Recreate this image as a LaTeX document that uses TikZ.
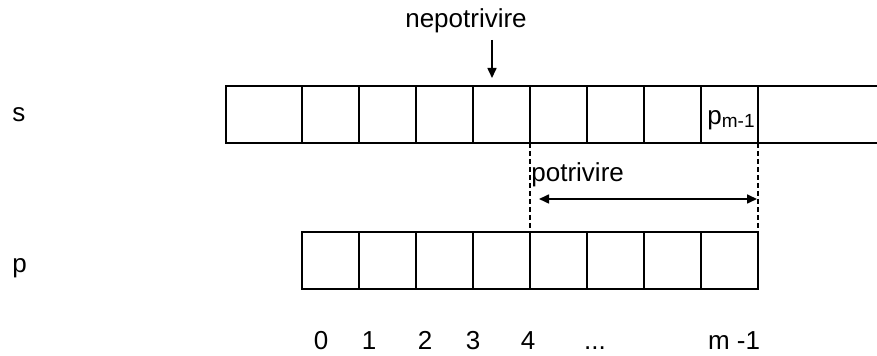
\documentclass[tikz,border=0pt]{standalone}
\usepackage{fontspec}
\setmainfont{Liberation Sans}
\usetikzlibrary{arrows.meta}
\begin{document}
\begin{tikzpicture}[x=0.5pt,y=-0.5pt,
  font=\fontsize{13}{15}\selectfont,
  cell/.style={draw,line width=1.1pt,rectangle,inner sep=0pt,outer sep=0pt,anchor=north west,minimum width=28.5pt,minimum height=28.5pt},
  txt/.style={inner sep=0pt},
  tip/.style={-{Triangle[length=5pt,width=4.5pt]}},
  dtip/.style={{Triangle[length=5pt,width=4.5pt]}-{Triangle[length=5pt,width=4.5pt]}},
  vdash/.style={line width=0.6pt,dash pattern=on 2.5pt off 1.5pt}]
\useasboundingbox (0,0) rectangle (877,356);
% top row s
\node[cell,minimum width=38pt] (s0) at (226,86) {};
\foreach \i in {1,...,8} {
  \node[cell] (s\i) at ({302+57*(\i-1)},86) {};
}
\coordinate (sendT) at (880,86);
\coordinate (sendB) at (880,143);
\draw[line width=1.1pt] (s8.north east) -- (sendT);
\draw[line width=1.1pt] (s8.south east) -- (sendB);
\node[txt,anchor=base west] (pm) at (707,125) {p\raisebox{-1.5pt}{\fontsize{9.5}{10}\selectfont m-1}};
% bottom row p
\foreach \i in {0,...,7} {
  \node[cell] (p\i) at ({302+57*\i},232) {};
}
% labels
\node[txt,anchor=base west] (ls) at (12,122) {s};
\node[txt,anchor=base west] (lp) at (12,273) {p};
% nepotrivire
\node[txt,anchor=base] (nep) at (466,28) {nepotrivire};
\coordinate (nepA) at (492,40);
\coordinate (nepB) at (492,78);
\draw[line width=0.8pt,tip] (nepA) -- (nepB);
% dashed guides
\draw[vdash] (s5.south west) -- (p4.north west);
\draw[vdash] (s8.south east) -- (p7.north east);
% potrivire
\node[txt,anchor=base west] (pot) at (531,182) {potrivire};
\coordinate (potA) at (539,199);
\coordinate (potB) at (757,199);
\draw[line width=0.8pt,dtip] (potA) -- (potB);
% indices
\foreach \n/\x in {0/321,1/369,2/425,3/473,4/528,{...}/595,{m -1}/734} {
  \node[txt,anchor=base] at (\x,350) {\n};
}
\end{tikzpicture}
\end{document}
